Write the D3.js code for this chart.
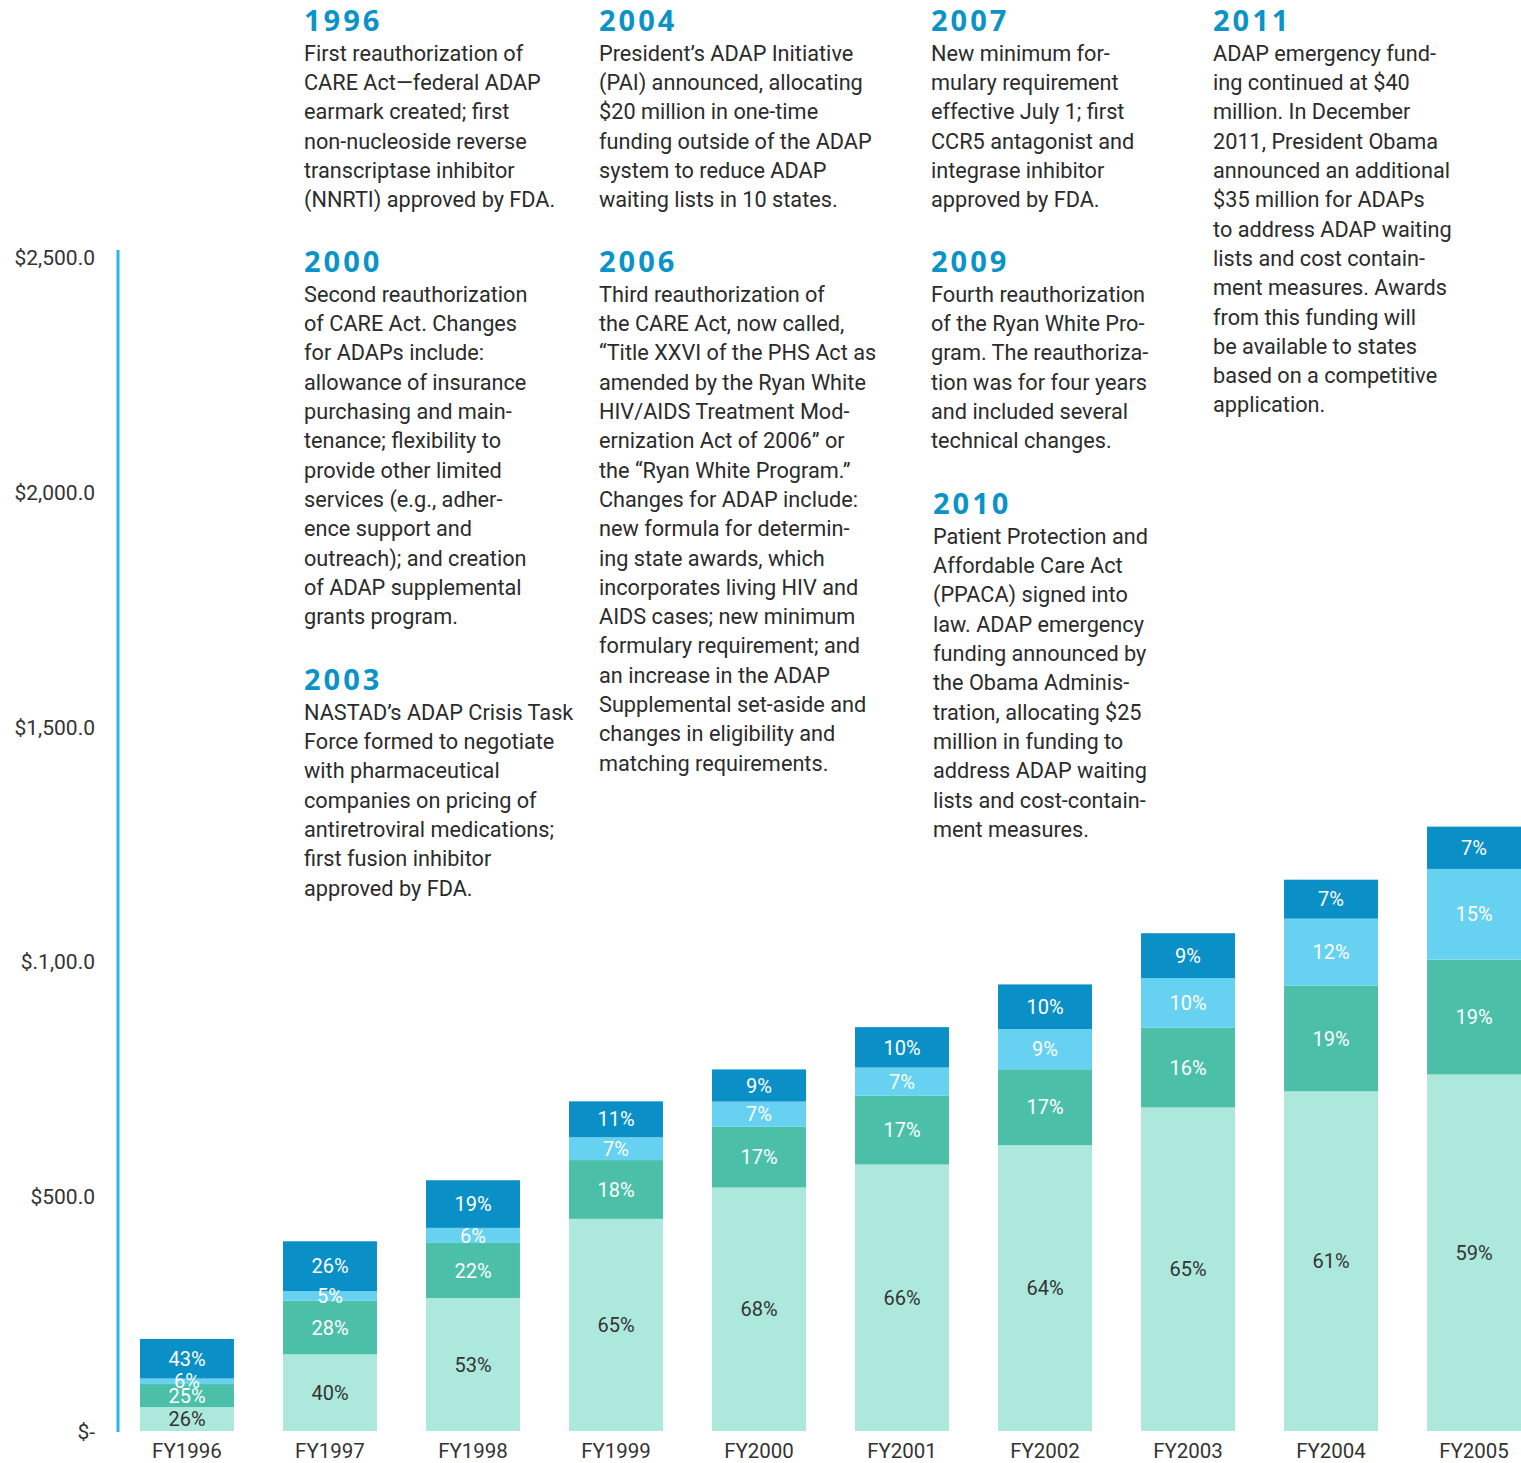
<!DOCTYPE html>
<html>
<head>
<meta charset="utf-8">
<script src="https://cdn.jsdelivr.net/npm/d3@7"></script>
<style>
  body { margin: 0; background: #fff; }
  svg text { font-family: "Liberation Sans", Arial, sans-serif; }
</style>
</head>
<body>
<svg class="MainSvg"></svg>
<script>
    // ---- data ----
    var years = ["FY1996", "FY1997", "FY1998", "FY1999", "FY2000", "FY2001", "FY2002", "FY2003", "FY2004", "FY2005"];
    // total ADAP budget (millions)
    var totals = [196, 404, 534, 702, 770, 860, 951, 1060, 1174, 1287];
    // share of each funding source, bottom to top
    var pctBase = [26, 40, 53, 65, 68, 66, 64, 65, 61, 59];
    var pctTeal = [25, 28, 22, 18, 17, 17, 17, 16, 19, 19];
    var pctLight = [6, 5, 6, 7, 7, 7, 9, 10, 12, 15];
    var pctDark = [43, 26, 19, 11, 9, 10, 10, 9, 7, 7];
    var yTicks = [0, 500, 1000, 1500, 2000, 2500];
    var yTickLabels = ["$-", "$500.0", "$.1,00.0", "$1,500.0", "$2,000.0", "$2,500.0"];

    var notes = [
        { year: "1996", col: 0, row: 0, lines: ["First reauthorization of", "CARE Act\u2014federal ADAP", "earmark created; first", "non-nucleoside reverse", "transcriptase inhibitor", "(NNRTI) approved by FDA."] },
        { year: "2000", col: 0, row: 1, lines: ["Second reauthorization", "of CARE Act. Changes", "for ADAPs include:", "allowance of insurance", "purchasing and main-", "tenance; flexibility to", "provide other limited", "services (e.g., adher-", "ence support and", "outreach); and creation", "of ADAP supplemental", "grants program."] },
        { year: "2003", col: 0, row: 2, lines: ["NASTAD\u2019s ADAP Crisis Task", "Force formed to negotiate", "with pharmaceutical", "companies on pricing of", "antiretroviral medications;", "first fusion inhibitor", "approved by FDA."] },
        { year: "2004", col: 1, row: 0, lines: ["President\u2019s ADAP Initiative", "(PAI) announced, allocating", "$20 million in one-time", "funding outside of the ADAP", "system to reduce ADAP", "waiting lists in 10 states."] },
        { year: "2006", col: 1, row: 1, lines: ["Third reauthorization of", "the CARE Act, now called,", "\u201cTitle XXVI of the PHS Act as", "amended by the Ryan White", "HIV/AIDS Treatment Mod-", "ernization Act of 2006\u201d or", "the \u201cRyan White Program.\u201d", "Changes for ADAP include:", "new formula for determin-", "ing state awards, which", "incorporates living HIV and", "AIDS cases; new minimum", "formulary requirement; and", "an increase in the ADAP", "Supplemental set-aside and", "changes in eligibility and", "matching requirements."] },
        { year: "2007", col: 2, row: 0, lines: ["New minimum for-", "mulary requirement", "effective July 1; first", "CCR5 antagonist and", "integrase inhibitor", "approved by FDA."] },
        { year: "2009", col: 2, row: 1, lines: ["Fourth reauthorization", "of the Ryan White Pro-", "gram. The reauthoriza-", "tion was for four years", "and included several", "technical changes."] },
        { year: "2010", col: 2, row: 2, lines: ["Patient Protection and", "Affordable Care Act", "(PPACA) signed into", "law. ADAP emergency", "funding announced by", "the Obama Adminis-", "tration, allocating $25", "million in funding to", "address ADAP waiting", "lists and cost-contain-", "ment measures."] },
        { year: "2011", col: 3, row: 0, lines: ["ADAP emergency fund-", "ing continued at $40", "million. In December", "2011, President Obama", "announced an additional", "$35 million for ADAPs", "to address ADAP waiting", "lists and cost contain-", "ment measures. Awards", "from this funding will", "be available to states", "based on a competitive", "application."] }
    ];

    var colors = ["#ade8dd", "#4cbfa9", "#66d1f0", "#0a8fc6"];
    var labelColors = ["#333333", "#ffffff", "#ffffff", "#ffffff"];

    var width = 1521, height = 1463;
    var colX = [304, 599, 931, 1213];
    var rowY = { 0: 21, 1: 262, 2: { 0: 680, 2: 504 } };
    var lineH = 29.3;

    var svg = d3.select(".MainSvg")
        .attr("width", width)
        .attr("height", height);

    var x = d3.scaleBand().domain(years).range([140, 1521]).paddingInner(0.343).paddingOuter(0);
    var y = d3.scaleLinear().domain([0, 2500]).range([1431, 257]);

    // build stacked table
    var table = years.map(function (yr, i) {
        var p = [pctBase[i], pctTeal[i], pctLight[i], pctDark[i]];
        var sum = d3.sum(p);
        var acc = 0;
        return p.map(function (v, k) {
            var y0 = acc;
            acc += v / sum * totals[i];
            return { year: yr, k: k, pct: v, y0: y0, y1: acc };
        });
    });

    var g = svg.append("g");
    var bars = g.selectAll("g.bar").data(table).enter().append("g").attr("class", "bar");
    bars.selectAll("rect").data(function (d) { return d; }).enter().append("rect")
        .attr("x", function (d) { return x(d.year); })
        .attr("width", x.bandwidth())
        .attr("y", function (d) { return y(d.y1); })
        .attr("height", function (d) { return y(d.y0) - y(d.y1); })
        .attr("fill", function (d) { return colors[d.k]; });
    bars.selectAll("text").data(function (d) { return d; }).enter().append("text")
        .attr("x", function (d) { return x(d.year) + x.bandwidth() / 2; })
        .attr("y", function (d) { return (y(d.y0) + y(d.y1)) / 2; })
        .attr("dy", "0.36em")
        .attr("text-anchor", "middle")
        .style("font-family", "Roboto, sans-serif")
        .style("font-size", "20px")
        .attr("fill", function (d) { return labelColors[d.k]; })
        .text(function (d) { return d.pct + "%"; });

    // y axis
    var yAxis = d3.axisLeft(y).tickValues(yTicks)
        .tickFormat(function (d, i) { return yTickLabels[i]; })
        .tickSize(0).tickPadding(0);
    var ya = svg.append("g").attr("transform", "translate(95,0)").call(yAxis);
    ya.select(".domain").remove();
    ya.selectAll("text").style("font-family", "Roboto, sans-serif").style("font-size", "21px").attr("fill", "#333").attr("dy", "0.36em");
    svg.append("line")
        .attr("x1", 118).attr("x2", 118)
        .attr("y1", 250).attr("y2", y(0) + 1)
        .attr("stroke", "#29b6ea").attr("stroke-width", 3);

    // x axis
    var xAxis = d3.axisBottom(x).tickSize(0).tickPadding(0);
    var xa = svg.append("g").attr("transform", "translate(0,1443)").call(xAxis);
    xa.select(".domain").remove();
    xa.selectAll("text").style("font-family", "Roboto, sans-serif").style("font-size", "20.5px").attr("fill", "#333");

    // timeline notes
    var nt = svg.selectAll("g.note").data(notes).enter().append("g").attr("class", "note")
        .attr("transform", function (d) {
            var yy = d.row === 2 ? rowY[2][d.col] : rowY[d.row];
            var xx = d.year === "2010" ? colX[d.col] + 2 : colX[d.col];
            return "translate(" + xx + "," + yy + ")";
        });
    nt.append("text")
        .attr("dy", "0.36em")
        .style("font-family", "'Open Sans', sans-serif")
        .style("font-weight", "bold")
        .style("font-size", "29px")
        .style("letter-spacing", "3px")
        .attr("fill", "#0a93c8")
        .text(function (d) { return d.year; });
    nt.selectAll("text.line").data(function (d) { return d.lines; }).enter().append("text")
        .attr("class", "line")
        .attr("y", function (d, i) { return 32 + i * lineH; })
        .attr("dy", "0.36em")
        .style("font-family", "Roboto, sans-serif")
        .style("font-size", "21.7px")
        .attr("fill", "#2b2b2b")
        .text(function (d) { return d; });
</script>
</body>
</html>
